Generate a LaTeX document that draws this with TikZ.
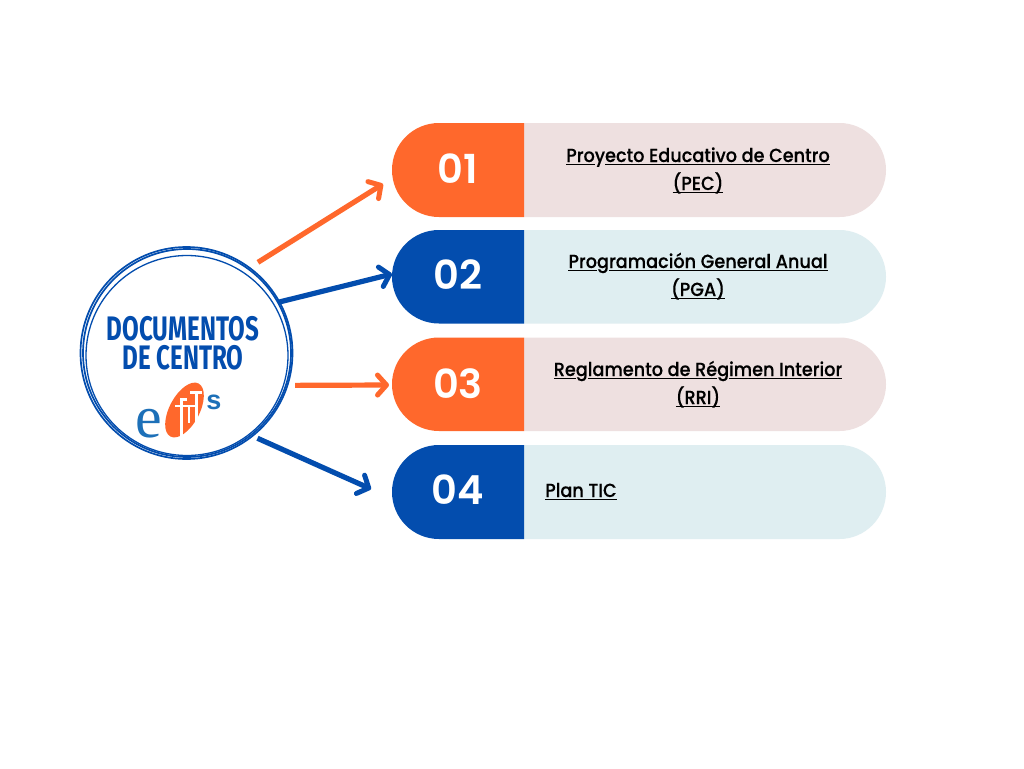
\documentclass[tikz,border=0pt]{standalone}
\usepackage{fontspec}
\setmainfont{Poppins}[UprightFont=* SemiBold]
\newfontfamily\txtfont{Poppins}[UprightFont=* Medium,FakeStretch=0.93,FakeBold=0.25]
\newfontfamily\titlefont{Fira Sans}[UprightFont=* Bold,FakeStretch=0.71]
\newfontfamily\logofont{Liberation Serif}
\newfontfamily\logosfont{Liberation Sans}[UprightFont=* Bold]
\usetikzlibrary{arrows.meta}
\definecolor{orangeA}{HTML}{FF682C}
\definecolor{blueA}{HTML}{034DAE}
\definecolor{pinkA}{HTML}{EEE0E0}
\definecolor{paleA}{HTML}{DFEEF1}
\definecolor{logoblue}{HTML}{1D70B8}
\newcommand\ulx[1]{\sbox0{#1}\rlap{\usebox0}\rule[-3.4pt]{\wd0}{1.8pt}}
\tikzset{
 x=1pt,y=-1pt,
 numtext/.style={text=white,font=\fontsize{40}{40}\selectfont,anchor=base,inner sep=0pt},
 labeltext/.style={text=black,font=\txtfont\fontsize{19}{28}\selectfont,align=center,inner sep=0pt,anchor=base},
 titletext/.style={text=blueA,font=\titlefont\fontsize{34}{29}\selectfont,inner sep=0pt,align=center},
 conn/.style={line width=5.2pt,-{Straight Barb[length=9pt,width=20pt,line width=5pt,round]}},
 ring/.style={draw=blueA,line width=1.7pt},
 logowhite/.style={fill=white}
}
\newcommand\pill[4]{%
 \fill[#4] (524,#1) -- (839.5,#1) .. controls (865,#1) and (886,#1+21) .. (886,#2/2+#1/2) .. controls (886,#2-21) and (865,#2) .. (839.5,#2) -- (524,#2) -- cycle;
 \fill[#3] (524,#1) -- (439,#1) .. controls (413,#1) and (392,#1+21) .. (392,#2/2+#1/2) .. controls (392,#2-21) and (413,#2) .. (439,#2) -- (524,#2) -- cycle;
}
\begin{document}
\begin{tikzpicture}
\useasboundingbox (0,0) rectangle (1024,768);
\fill[white] (0,0) rectangle (1024,768);
% pills
\pill{123}{217}{orangeA}{pinkA}
\pill{230}{323.5}{blueA}{paleA}
\pill{337.5}{431}{orangeA}{pinkA}
\pill{445}{539}{blueA}{paleA}
\node[numtext] (num1) at (458,183) {01};
\node[numtext] (num2) at (458,289) {02};
\node[numtext] (num3) at (458,398) {03};
\node[numtext] (num4) at (458,504) {04};
\node[labeltext] (lab1a) at (698,162) {\ulx{Pro}y\ulx{ecto Educativo de Centro}};
\node[labeltext] (lab1b) at (698,190) {\ulx{(PEC)}};
\node[labeltext] (lab2a) at (698,268) {\ulx{Pro}g\ulx{ramación General Anual}};
\node[labeltext] (lab2b) at (698,296) {\ulx{(PGA)}};
\node[labeltext] (lab3a) at (698,376) {\ulx{Re}g\ulx{lamento de Ré}g\ulx{imen Interior}};
\node[labeltext] (lab3b) at (698,404) {\ulx{(RRI)}};
\node[labeltext,anchor=base west] (lab4) at (545,497) {\ulx{Plan TIC}};
% hub
\node[circle,ring,minimum size=208pt,inner sep=0pt] (hub) at (187,353) {};
\draw[ring] (186.5,353) ellipse [x radius=106,y radius=106];
\draw[ring,line width=1.3pt] (187,355.5) ellipse [x radius=101,y radius=100];
\node[titletext] (title) at (183,343.5) {DOCUMENTOS\\[0pt]DE CENTRO};
% logo
\fill[orangeA,rotate around={62:(184.5,410)}] (184.5,410) ellipse [x radius=30,y radius=15];
\node[text=logoblue,font=\logofont\fontsize{60}{60}\selectfont,anchor=base,inner sep=0pt] (loge) at (149,437) {e};
\node[text=logoblue,font=\logosfont\fontsize{27}{27}\selectfont,anchor=base,inner sep=0pt] (logos) at (214,409) {s};
\fill[logowhite] (180,398) rectangle (183,436);
\fill[logowhite] (183,398) rectangle (187,400.5);
\fill[logowhite] (175,404.5) rectangle (190,407);
\fill[logowhite] (188,404.5) rectangle (190,423);
\fill[logowhite] (195,391) rectangle (198,424);
\fill[logowhite] (190,391) rectangle (202,393.5);
\fill[logowhite] (190,404.5) rectangle (197,407);
% connectors
\coordinate (tip1) at (383,184);
\coordinate (tip2) at (392,274);
\coordinate (tip3) at (389,385);
\coordinate (tip4) at (371,489);
\draw[conn,draw=orangeA,shorten <=11pt] (hub.54.5) -- (tip1);
\draw[conn,draw=blueA,shorten <=-1pt] (hub.29.7) -- (tip2);
\draw[conn,draw=orangeA,shorten <=8.5pt] (hub.-18.2) -- (tip3);
\draw[conn,draw=blueA,shorten <=6.5pt] (hub.-52.4) -- (tip4);
\end{tikzpicture}
\end{document}
